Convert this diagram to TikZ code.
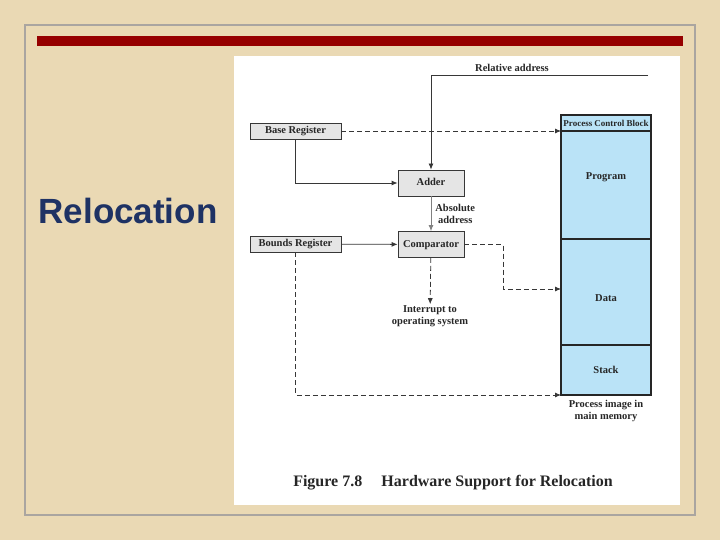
\documentclass[tikz,border=0pt]{standalone}
\usepackage{fontspec}
\setmainfont{Liberation Serif}
\newfontfamily\titlefont{Liberation Sans}
\usetikzlibrary{arrows.meta, positioning, calc}
\definecolor{Parchment}{RGB}{234, 217, 180}
\definecolor{FrameGray}{RGB}{170, 165, 160}
\definecolor{BarRed}{RGB}{150, 0, 0}
\definecolor{Navy}{RGB}{30, 50, 100}
\definecolor{BoxGray}{RGB}{229, 229, 229}
\definecolor{LineGray}{RGB}{55, 55, 55}
\definecolor{MemBlue}{RGB}{186, 227, 247}

\begin{document}
\begin{tikzpicture}[x=1pt, y=-1pt, every node/.style={font=\fontsize{10.5}{12}\selectfont\bfseries, text=black!85, inner sep=1pt},
    regbox/.style={draw=LineGray, line width=0.8pt, fill=BoxGray, minimum width=91pt, minimum height=16pt, text height=1.6ex, text depth=0.3ex},
    unitbox/.style={draw=LineGray, line width=0.8pt, fill=BoxGray, minimum width=66pt, minimum height=26pt, text height=1.6ex, text depth=0.3ex},
    memcell/.style={draw=black!85, line width=2.8pt, fill=MemBlue, outer sep=0pt, minimum width=90pt},
    link/.style={-{Latex[length=6pt, width=5pt]}, LineGray, line width=0.8pt},
    dlink/.style={link, dash pattern=on 5pt off 3pt}]
    % slide background
    \useasboundingbox (0,0) rectangle (720,540);
    \fill[Parchment] (0,0) rectangle (720,540);
    \draw[FrameGray, line width=2pt] (25,25) rectangle (695,515);
    \fill[BarRed] (37,36) rectangle (683,46);
    \fill[white] (234,56) rectangle (680,505);
    \node[font=\titlefont\fontsize{35}{40}\selectfont\bfseries, text=Navy] (title) at (128,211) {Relocation};

    % registers and units
    \node[regbox] (base) at (295.5,131) {Base Register};
    \node[regbox] (bounds) at (295.5,244) {Bounds Register};
    \node[unitbox] (adder) at (431,183) {Adder};
    \node[unitbox] (comp) at (431,244.5) {Comparator};
    \node (reladdr) at (512,68) {Relative address};
    \coordinate (relend) at (648,75);
    \node[align=center] (intr) at (430,316) {Interrupt to\\operating system};

    % process image
    \node[memcell, anchor=north, minimum height=16pt, font=\fontsize{9}{10}\selectfont\bfseries] (pcb) at (606,115) {Process Control Block};
    \node[memcell, minimum height=108pt, below=0pt of pcb, label={[yshift=8pt]center:Program}] (prog) {};
    \node[memcell, minimum height=106pt, below=0pt of prog, label={[yshift=-6pt]center:Data}] (data) {};
    \node[memcell, minimum height=50pt, below=0pt of data] (stack) {Stack};
    \node[align=center, below=4pt of stack] (imgcap) {Process image in\\main memory};

    \node[font=\fontsize{16}{18}\selectfont\bfseries] (caption) at (453,483) {Figure 7.8\hspace{1.2em}Hardware Support for Relocation};

    \draw[link] (relend) -| (adder.north);
    \draw[dlink] (base.east) -- (pcb.south west);
    \draw[link] (base.south) |- (adder.west);
    \draw[link, gray] (adder) -- (comp) node[midway, right=3pt, align=center] {Absolute\\address};
    \draw[link] (bounds) -- (comp);
    \draw[dlink] (comp.east) -- ++(39,0) |- ([yshift=3pt]data.west);
    \draw[dlink] (comp) -- (intr);
    \draw[dlink] (bounds.south) |- (stack.south west);
\end{tikzpicture}
\end{document}
